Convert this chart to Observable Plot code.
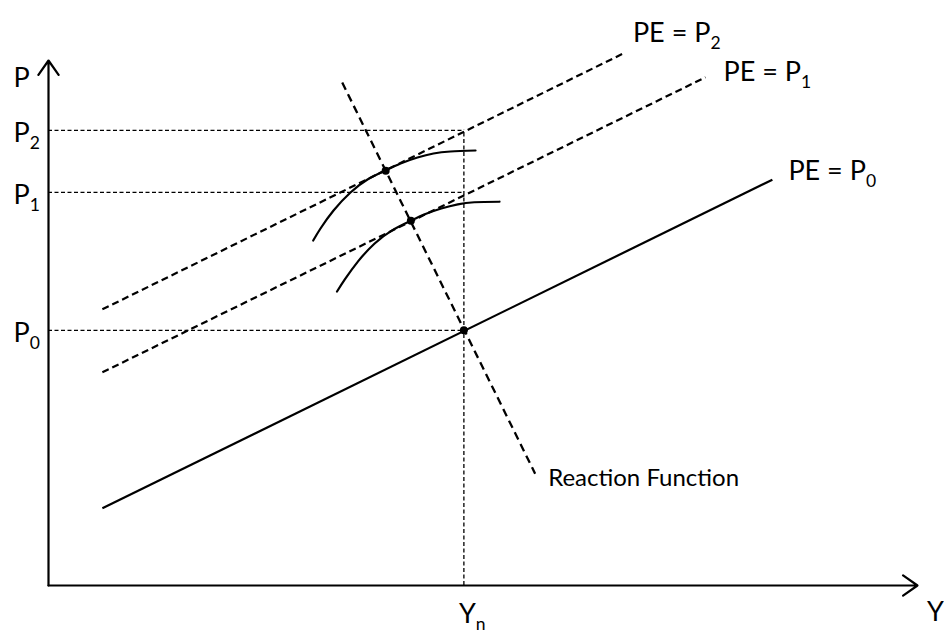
<!DOCTYPE html>
<html><head><meta charset="utf-8">
<script src="https://cdn.jsdelivr.net/npm/d3@7"></script>
<script src="https://cdn.jsdelivr.net/npm/@observablehq/plot@0.6"></script>
<style>body{margin:0;background:#fff;} #chart svg{display:block;}</style>
</head><body><div id="chart"></div>
<script>
// ---- data (diagram units: 0..100 on each axis) ----
const Yn = 47.8;
const priceNames = ["P_0", "P_1", "P_2"];
const priceValues = [48.6, 74.9, 86.7];

const peNames = ["PE = P_0", "PE = P_1", "PE = P_2"];
const peStartX = [6.2, 6.2, 6.2];
const peStartY = [14.7, 40.6, 52.6];
const peEndX = [83.3, 75.6, 66.1];
const peEndY = [77.3, 96.8, 101.3];

const reactionX = [33.8, 56.0];
const reactionY = [95.8, 21.3];

const eqX = [38.8, 41.7, 47.8];
const eqY = [79.0, 69.5, 48.6];

const upperArcX = [30.46, 31.30, 32.80, 34.75, 36.71, 38.78, 40.51, 42.46, 44.30, 46.26, 49.14];
const upperArcY = [65.71, 68.00, 71.43, 74.86, 77.33, 79.05, 80.38, 81.52, 82.29, 82.67, 82.86];
const lowerArcX = [33.2, 34.1, 35.6, 37.5, 39.5, 41.6, 43.3, 45.2, 47.1, 49.0, 51.9];
const lowerArcY = [56.0, 58.3, 61.7, 65.1, 67.6, 69.4, 70.7, 71.8, 72.6, 73.0, 73.1];

// ---- tables built from the arrays ----
const prices = priceNames.map((n, i) => ({name: n, p: priceValues[i]}));
const pe = peNames.map((n, i) => ({name: n, x1: peStartX[i], y1: peStartY[i], x2: peEndX[i], y2: peEndY[i]}));
const reaction = [{x1: reactionX[0], y1: reactionY[0], x2: reactionX[1], y2: reactionY[1]}];
const eq = eqX.map((x, i) => ({x, y: eqY[i]}));
const upperArc = upperArcX.map((x, i) => ({x, y: upperArcY[i]}));
const lowerArc = lowerArcX.map((x, i) => ({x, y: lowerArcY[i]}));
const axes = [{x1: 0, y1: 0, x2: 0, y2: 100}, {x1: 0, y1: 0, x2: 100, y2: 0}];

// style offsets for labels
const peLabelOffset = [[16, -8], [18, -5], [10, -20]];
const font = "Lato, 'Open Sans', sans-serif";
const big = 27;

const marks = [
  // guide lines
  Plot.ruleY(prices, {y: "p", x1: 0, x2: Yn, stroke: "black", strokeWidth: 1.3, strokeDasharray: "4,2.5"}),
  Plot.ruleX([Yn], {x: d => d, y1: 0, y2: priceValues[2], stroke: "black", strokeWidth: 1.3, strokeDasharray: "4,2.5"}),
  // axes
  Plot.arrow(axes, {x1: "x1", y1: "y1", x2: "x2", y2: "y2", bend: 0, headLength: 12, headAngle: 70, stroke: "black", strokeWidth: 2.2}),
  // PE lines
  Plot.link(pe.slice(0, 1), {x1: "x1", y1: "y1", x2: "x2", y2: "y2", stroke: "black", strokeWidth: 2.2}),
  Plot.link(pe.slice(1), {x1: "x1", y1: "y1", x2: "x2", y2: "y2", stroke: "black", strokeWidth: 2.2, strokeDasharray: "7,4"}),
  // reaction function
  Plot.link(reaction, {x1: "x1", y1: "y1", x2: "x2", y2: "y2", stroke: "black", strokeWidth: 2.3, strokeDasharray: "8,5"}),
  // arcs
  Plot.line(upperArc, {x: "x", y: "y", curve: "natural", stroke: "black", strokeWidth: 2.2}),
  Plot.line(lowerArc, {x: "x", y: "y", curve: "natural", stroke: "black", strokeWidth: 2.2}),
  // equilibrium points
  Plot.dot(eq, {x: "x", y: "y", r: 4, fill: "black"}),
  // axis labels
  Plot.text(["P"], {x: 0, y: 100, text: d => d, dx: -35, dy: 18, textAnchor: "start", fontSize: big, fontFamily: font, fill: "black"}),
  Plot.text(["Y"], {x: 100, y: 0, text: d => d, dx: 18, dy: 27, textAnchor: "middle", fontSize: big, fontFamily: font, fill: "black"}),
  Plot.text(["Y_n"], {x: Yn, y: 0, text: d => d, dx: -5, dy: 29, textAnchor: "start", fontSize: big, fontFamily: font, fill: "black"}),
  Plot.text(prices, {x: 0, y: "p", text: "name", dx: -35, dy: 3, textAnchor: "start", fontSize: big, fontFamily: font, fill: "black"}),
  ...pe.map((d, i) => Plot.text([d], {x: "x2", y: "y2", text: "name", dx: peLabelOffset[i][0], dy: peLabelOffset[i][1], textAnchor: "start", fontSize: big, fontFamily: font, fill: "black"})),
  Plot.text(["Reaction Function"], {x: reactionX[1], y: reactionY[1], text: d => d, dx: 13, dy: 5, textAnchor: "start", fontSize: 24, fontFamily: font, fill: "black"})
];

const chart = Plot.plot({
  width: 944,
  height: 635,
  marginLeft: 48,
  marginRight: 27,
  marginTop: 60,
  marginBottom: 50,
  x: {domain: [0, 100], axis: null},
  y: {domain: [0, 100], axis: null},
  style: {background: "white", overflow: "visible"},
  marks
});

// subscripts: "X_s" -> X<sub>s</sub>
d3.select(chart).selectAll("text").each(function () {
  const t = this.textContent;
  if (t.includes("_")) {
    const [main, sub] = t.split("_");
    const sel = d3.select(this);
    sel.text(main);
    sel.append("tspan").attr("font-size", "0.65em").attr("dy", "0.4em").text(sub);
  }
});

document.getElementById("chart").appendChild(chart);
</script>
</body></html>
